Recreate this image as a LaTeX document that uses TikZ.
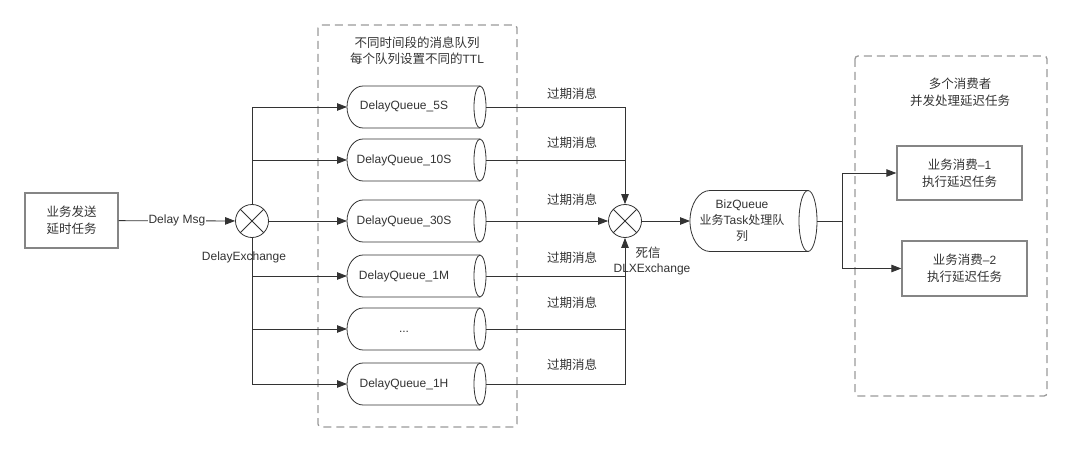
\documentclass[tikz,border=0pt]{standalone}
\usepackage{fontspec}
\setmainfont{Liberation Sans}
\newfontfamily\cjk{Noto Sans CJK SC}
\usetikzlibrary{arrows.meta}

\definecolor{ln}{HTML}{333333}
\definecolor{bd}{HTML}{858585}
\definecolor{dsh}{HTML}{9A9A9A}

\begin{document}
\begin{tikzpicture}[x=1pt, y=1pt, font=\fontsize{12}{16}\selectfont, text=ln,
    box/.style={draw=bd, line width=1.3pt, align=center, font=\cjk\fontsize{12.5}{17}\selectfont},
    xc/.style={draw=ln, circle, minimum size=33pt, inner sep=0pt, line width=0.8pt},
    q/.style={inner sep=0pt, text height=9pt, text depth=3pt},
    cn/.style={font=\cjk\fontsize{12.5}{16}\selectfont, align=center},
    grp/.style={draw=dsh, dash pattern=on 8pt off 5pt, line width=1.3pt, rounded corners=3pt},
    n/.style={-{Triangle[length=10pt, width=7.5pt]}, draw=ln, line width=0.8pt},
    l/.style={draw=ln, line width=0.8pt}]
    \useasboundingbox (0,0) rectangle (1072,-452);
    % groups
    \draw[grp] (318,-25) rectangle (517,-427);
    \draw[grp] (855,-56) rectangle (1047,-396);
    \node[align=center] (t1) at (417,-50.5) {{\cjk\fontsize{12.5}{16}\selectfont 不同时间段的消息队列}\\{\cjk\fontsize{12.5}{16}\selectfont 每个队列设置不同的}TTL};
    \node[cn] (t2) at (960,-92) {多个消费者\\[1pt]并发处理延迟任务};
    % nodes
    \node[box, minimum width=93, minimum height=55] (src) at (71.5,-220.5) {业务发送\\延时任务};
    \node[xc] (dx) at (252,-221) {};
    \draw[ln, line width=0.8pt] (dx.north east) -- (dx.south west) (dx.north west) -- (dx.south east);
    \node (dxl) at (244,-257) {DelayExchange};
    \node[xc] (dlx) at (625,-221) {};
    \draw[ln, line width=0.8pt] (dlx.north east) -- (dlx.south west) (dlx.north west) -- (dlx.south east);
    \node[cn] (dlxl) at (648,-253) {死信};
    \node (dlxn) at (652,-269) {DLXExchange};
    % queues
    \foreach \y/\ly/\t [count=\i] in {107/94/DelayQueue\_5S, 160/143/DelayQueue\_10S, 221/200/DelayQueue\_30S,
        276/258/DelayQueue\_1M, 329/303/{...}, 384/365/DelayQueue\_1H} {
        \node[q] (q\i) at (404,-\y) {\t};
        \draw[l] ([shift={(76,21)}]q\i.center) -- ([shift={(-41,21)}]q\i.center)
            arc[start angle=90, end angle=270, x radius=16, y radius=21] -- ([shift={(76,-21)}]q\i.center);
        \draw[l] ([xshift=76]q\i.center) ellipse[x radius=6, y radius=21];
        \coordinate (q\i w) at ([xshift=-57]q\i.center);
        \coordinate (q\i e) at ([xshift=82]q\i.center);
        \node[cn] (e\i) at (572,-\ly) {过期消息};
    }
    \node[align=center, inner sep=0pt] (bq) at (742,-221) {BizQueue\\{\cjk 业务}Task{\cjk 处理队}\\{\cjk 列}};
    \draw[l] ([shift={(66,30.5)}]bq.center) -- ([shift={(-32,30.5)}]bq.center)
        arc[start angle=90, end angle=270, x radius=20, y radius=30.5] -- ([shift={(66,-30.5)}]bq.center);
    \draw[l] ([xshift=66]bq.center) ellipse[x radius=9, y radius=30.5];
    \coordinate (bqw) at ([xshift=-52]bq.center);
    \coordinate (bqe) at ([xshift=75]bq.center);
    \node[box, minimum width=125, minimum height=54] (c1) at (959.5,-173) {业务消费{\rmfamily\fontsize{12}{17}\selectfont –1}\\执行延迟任务};
    \node[box, minimum width=125, minimum height=55] (c2) at (964.5,-268.5) {业务消费{\rmfamily\fontsize{12}{17}\selectfont –2}\\执行延迟任务};
    \coordinate (fork) at (842,-221);
    % edges
    \draw[n] (src) -- node[fill=white, inner sep=1pt] (msg) {Delay Msg} (dx);
    \draw[n] (dx) |- (q1w);
    \draw[n] (q2w -| dx) -- (q2w);
    \draw[n] (dx) -- (q3w);
    \draw[n] (q4w -| dx) -- (q4w);
    \draw[n] (q5w -| dx) -- (q5w);
    \draw[n] (dx) |- (q6w);
    \draw[n] (q1e) -| (dlx);
    \draw[l] (q2e) -- (q2e -| dlx);
    \draw[n] (q3e) -- (dlx);
    \draw[l] (q4e) -- (q4e -| dlx);
    \draw[l] (q5e) -- (q5e -| dlx);
    \draw[n] (q6e) -| (dlx);
    \draw[n] (dlx) -- (bqw);
    \draw[l] (bqe) -- (fork);
    \draw[n] (fork) |- (c1);
    \draw[n] (fork) |- (c2);
\end{tikzpicture}
\end{document}
